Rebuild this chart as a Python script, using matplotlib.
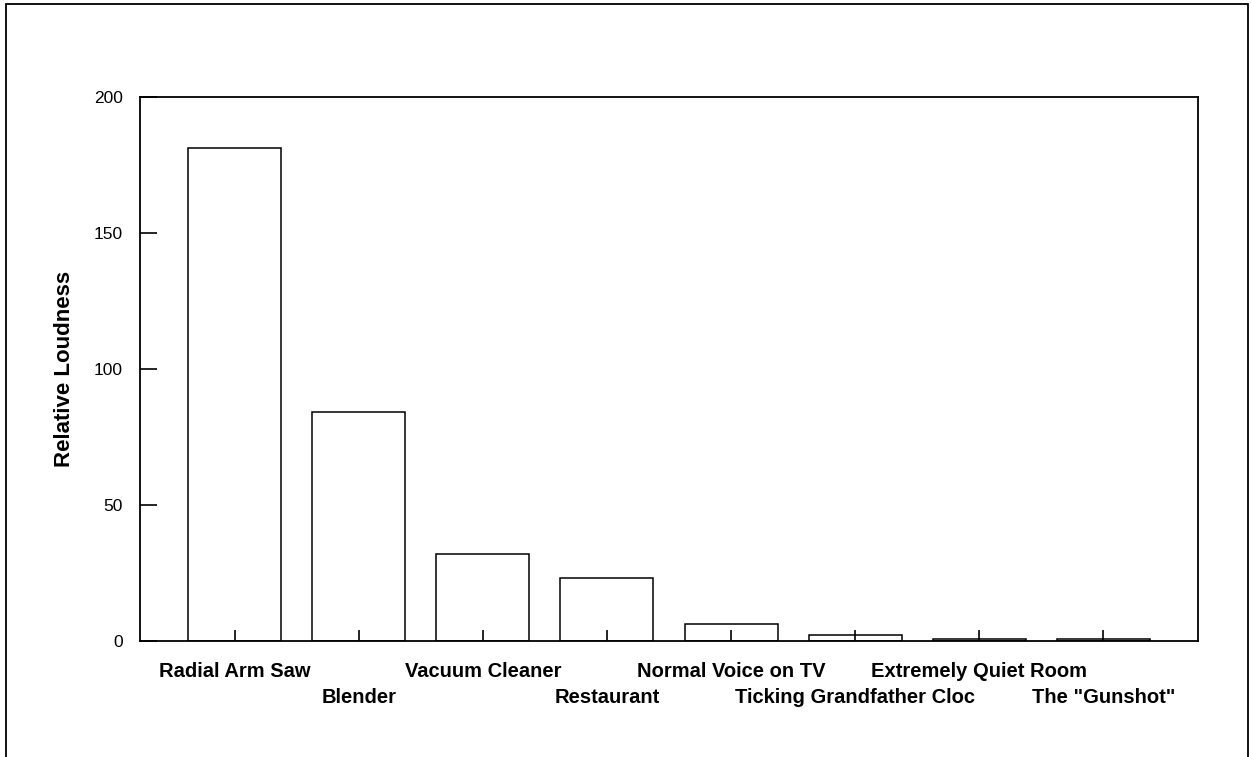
import numpy as np
import matplotlib
matplotlib.use("Agg")
import matplotlib.pyplot as plt
from matplotlib.patches import Rectangle

# sound sources and their relative loudness
SOURCES = ["Radial Arm Saw", "Blender", "Vacuum Cleaner", "Restaurant",
           "Normal Voice on TV", "Ticking Grandfather Cloc",
           "Extremely Quiet Room", 'The "Gunshot"']
LOUDNESS = [181.2, 84.2, 31.8, 22.9, 6.0, 2.1, 0.6, 0.6]
Y_TICKS = [0, 50, 100, 150, 200]

plt.rcParams['font.family'] = ['Liberation Sans', 'DejaVu Sans']

fig = plt.figure(figsize=(12.51, 7.57), dpi=100)
ax = fig.add_axes([140 / 1251, 1 - 640.7 / 757, 1058 / 1251, 544 / 757])

x = np.arange(len(SOURCES))
ax.bar(x, LOUDNESS, width=0.75, facecolor='white', edgecolor='black',
       linewidth=1.1, zorder=1)

ax.set_xlim(-0.763, len(SOURCES) - 1 + 0.763)
ax.set_ylim(0, 200)
ax.set_yticks(Y_TICKS)
ax.set_xticks(x)
ax.set_xticklabels([])

ax.tick_params(axis='y', direction='in', length=12, width=1.2, pad=12.5,
               labelsize=12.5)
ax.tick_params(axis='x', direction='in', length=8, width=1.2)
for sp in ax.spines.values():
    sp.set_linewidth(1.3)
    sp.set_zorder(3)

# category labels staggered in two rows
for i, name in enumerate(SOURCES):
    yy = -0.0673 if i % 2 == 0 else -0.1151
    ax.text(i, yy, name, transform=ax.get_xaxis_transform(), ha='center',
            va='baseline', fontsize=14.5, fontweight='bold')

ax.set_ylabel('Relative Loudness', fontsize=16, fontweight='bold', labelpad=13)

# outer frame around the figure
fig.patches.append(Rectangle((5.5 / 1251, -0.1), 1242.5 / 1251, 1.1 - 3.5 / 757,
                             transform=fig.transFigure, fill=False,
                             edgecolor='black', linewidth=1.3))

fig.savefig('out.png', dpi=100)
